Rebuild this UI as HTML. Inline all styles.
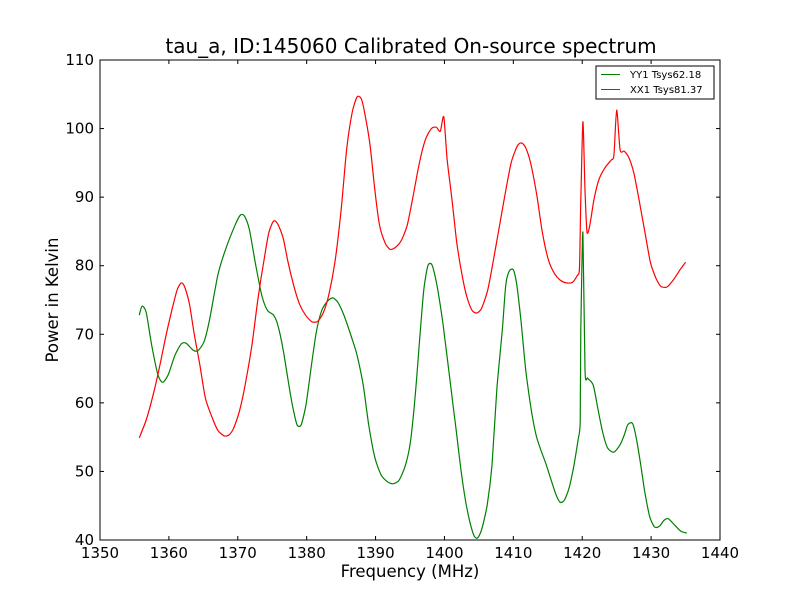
<!DOCTYPE html>
<html><head><meta charset="utf-8"><style>
body{margin:0;background:#fff}
svg text{font-family:"DejaVu Sans","Liberation Sans",sans-serif}
</style></head><body>
<svg id="chart" width="800" height="600" xmlns="http://www.w3.org/2000/svg">
<rect width="800" height="600" fill="#fff"/>
<text x="411" y="53" font-size="20" text-anchor="middle">tau_a, ID:145060 Calibrated On-source spectrum</text>
<g id="plot"></g>
<rect x="100" y="60" width="620" height="480" fill="none" stroke="#000" stroke-width="1"/>
<g id="ticks"></g>
<text x="410" y="577" font-size="16.5" text-anchor="middle">Frequency (MHz)</text>
<text x="0" y="0" font-size="16.5" text-anchor="middle" transform="translate(58,300) rotate(-90)">Power in Kelvin</text>
<g>
<rect x="596" y="66" width="118" height="33" fill="#fff" stroke="#000" stroke-width="1"/>
<line x1="601" y1="74.5" x2="620" y2="74.5" stroke="#008000" stroke-width="1"/>
<text x="630" y="78" font-size="10">YY1 Tsys62.18</text>
<line x1="601" y1="89.5" x2="620" y2="89.5" stroke="#ff0000" stroke-width="1"/>
<text x="630" y="93" font-size="10">XX1 Tsys81.37</text>
</g>
</svg>
<script>
const xTicks=[1350,1360,1370,1380,1390,1400,1410,1420,1430,1440];
const yTicks=[40,50,60,70,80,90,100,110];
const yyFreq=[1355.7,1356.1,1356.7,1357.5,1358.4,1359.1,1359.9,1360.9,1361.8,1362.5,1363.5,1364.2,1365.1,1365.9,1367.1,1368.2,1369.6,1370.4,1371.0,1371.7,1372.6,1373.5,1374.3,1375.2,1375.8,1376.6,1377.3,1378.0,1378.6,1379.2,1379.9,1380.6,1381.4,1382.2,1383.1,1383.8,1384.5,1385.4,1386.4,1387.3,1388.2,1389.0,1389.9,1390.8,1391.7,1392.5,1393.4,1394.3,1395.0,1395.7,1396.4,1397.0,1397.6,1398.2,1398.9,1399.8,1400.8,1401.7,1402.4,1403.1,1403.7,1404.3,1404.8,1405.4,1406.2,1406.9,1407.6,1408.4,1408.9,1409.4,1410.0,1410.5,1411.1,1411.8,1412.6,1413.3,1414.0,1414.7,1415.5,1416.2,1416.8,1417.4,1418.1,1418.8,1419.4,1419.7,1419.8,1420.1,1420.4,1420.8,1421.6,1422.3,1423.0,1423.7,1424.6,1425.5,1426.1,1426.6,1427.3,1427.9,1428.5,1429.1,1429.8,1430.5,1431.2,1431.9,1432.5,1433.4,1434.3,1435.2];
const yyPower=[72.8,74.1,73.2,68.4,64.1,63.0,64.1,67.0,68.6,68.7,67.7,67.6,68.9,72.1,78.6,82.3,85.9,87.4,87.2,85.2,80.1,75.6,73.5,72.8,71.4,67.7,63.3,59.3,56.8,56.8,59.7,64.8,70.3,73.5,74.9,75.3,74.7,72.8,69.9,67.0,62.6,56.8,52.0,49.5,48.5,48.2,48.7,50.8,53.9,60.4,69.2,76.5,80.0,80.1,77.2,71.4,63.3,56.0,50.2,45.5,42.6,40.6,40.3,41.5,45.1,50.9,61.9,70.6,77.2,79.2,79.4,77.2,72.1,64.8,59.0,55.3,53.1,51.2,48.7,46.6,45.5,45.8,47.6,50.9,54.6,57.2,70.6,84.9,64.8,63.6,62.6,59.0,55.6,53.4,52.8,53.9,55.3,56.8,57.0,54.6,50.9,46.9,43.4,41.9,42.0,42.9,43.1,42.2,41.3,41.0];
const xxFreq=[1355.7,1356.7,1357.7,1358.7,1359.6,1360.5,1361.2,1361.8,1362.3,1363.0,1363.7,1364.5,1365.3,1366.3,1367.1,1368.0,1368.7,1369.4,1370.3,1371.2,1372.1,1372.9,1373.8,1374.5,1375.2,1375.8,1376.6,1377.3,1378.2,1379.0,1379.9,1380.8,1381.6,1382.4,1383.2,1384.1,1385.0,1385.8,1386.6,1387.3,1387.9,1388.4,1389.2,1389.9,1390.6,1391.4,1392.1,1392.8,1393.7,1394.6,1395.4,1396.3,1397.2,1398.1,1398.8,1399.4,1399.9,1400.4,1401.1,1401.8,1402.6,1403.3,1404.0,1404.7,1405.4,1406.3,1407.1,1408.0,1408.9,1409.7,1410.6,1411.2,1411.8,1412.5,1413.4,1414.2,1415.1,1416.0,1416.8,1417.7,1418.6,1419.3,1419.6,1419.8,1420.1,1420.4,1420.7,1421.1,1421.7,1422.4,1423.3,1424.2,1424.6,1425.0,1425.5,1426.1,1426.8,1427.5,1428.2,1429.1,1429.9,1430.7,1431.4,1432.3,1433.2,1434.2,1435.0];
const xxPower=[54.9,57.5,61.1,65.5,69.9,73.8,76.5,77.5,76.9,74.3,69.9,65.5,60.7,57.8,56.0,55.2,55.3,56.3,59.0,63.3,68.7,75.0,80.8,84.8,86.5,86.1,84.0,80.5,76.8,74.3,72.7,71.8,71.9,73.1,75.7,80.5,88.1,96.9,102.3,104.6,104.4,102.4,97.6,91.0,85.8,83.3,82.4,82.6,83.6,85.9,89.9,94.7,98.3,100.0,100.2,99.6,101.7,95.4,89.6,83.3,78.4,75.3,73.5,73.1,73.8,76.5,80.8,85.9,91.0,95.1,97.5,97.9,97.2,95.0,90.3,84.9,80.8,78.8,77.9,77.5,77.6,78.6,79.7,89.6,101.0,91.0,84.9,85.9,89.6,92.5,94.3,95.4,96.1,102.7,96.9,96.7,95.7,93.5,89.9,84.9,80.5,78.2,77.0,76.9,77.9,79.4,80.5];

const NS='http://www.w3.org/2000/svg';
const X0=100,X1=720,Y0=540,Y1=60;
function sx(v){return X0+(v-1350)/(1440-1350)*(X1-X0);}
function sy(v){return Y0-(v-40)/(110-40)*(Y0-Y1);}
const plot=document.getElementById('plot'),ticks=document.getElementById('ticks');
function line(f,p,color,name){
  const pts=f.map((v,i)=>[sx(v),sy(p[i])]);
  let d='M'+pts[0][0].toFixed(1)+','+pts[0][1].toFixed(1);
  for(let i=0;i<pts.length-1;i++){
    const p0=pts[Math.max(0,i-1)],p1=pts[i],p2=pts[i+1],p3=pts[Math.min(pts.length-1,i+2)];
    const t=0.12;
    const c1=[p1[0]+(p2[0]-p0[0])*t,p1[1]+(p2[1]-p0[1])*t];
    const c2=[p2[0]-(p3[0]-p1[0])*t,p2[1]-(p3[1]-p1[1])*t];
    d+=' C'+c1[0].toFixed(1)+','+c1[1].toFixed(1)+' '+c2[0].toFixed(1)+','+c2[1].toFixed(1)+' '+p2[0].toFixed(1)+','+p2[1].toFixed(1);
  }
  const el=document.createElementNS(NS,'path');
  el.setAttribute('d',d);
  el.setAttribute('fill','none');el.setAttribute('stroke',color);el.setAttribute('stroke-width','1.2');
  
  
  plot.appendChild(el);
}
line(yyFreq,yyPower,'#008000','yy1-series-line');
line(xxFreq,xxPower,'#ff0000','xx1-series-line');
xTicks.forEach(t=>{
  const x=sx(t);
  [[Y0,Y0-4],[Y1,Y1+4]].forEach(([a,b])=>{const l=document.createElementNS(NS,'line');l.setAttribute('x1',x);l.setAttribute('x2',x);l.setAttribute('y1',a);l.setAttribute('y2',b);l.setAttribute('stroke','#000');ticks.appendChild(l);});
  const tx=document.createElementNS(NS,'text');tx.setAttribute('x',x);tx.setAttribute('y',Y0+18);tx.setAttribute('font-size','15');tx.setAttribute('text-anchor','middle');tx.textContent=t;
  
  
  ticks.appendChild(tx);
});
yTicks.forEach(t=>{
  const y=sy(t);
  [[X0,X0+4],[X1,X1-4]].forEach(([a,b])=>{const l=document.createElementNS(NS,'line');l.setAttribute('y1',y);l.setAttribute('y2',y);l.setAttribute('x1',a);l.setAttribute('x2',b);l.setAttribute('stroke','#000');ticks.appendChild(l);});
  const tx=document.createElementNS(NS,'text');tx.setAttribute('x',X0-6);tx.setAttribute('y',y+5);tx.setAttribute('font-size','15');tx.setAttribute('text-anchor','end');tx.textContent=t;
  
  
  ticks.appendChild(tx);
});
</script>
</body></html>
